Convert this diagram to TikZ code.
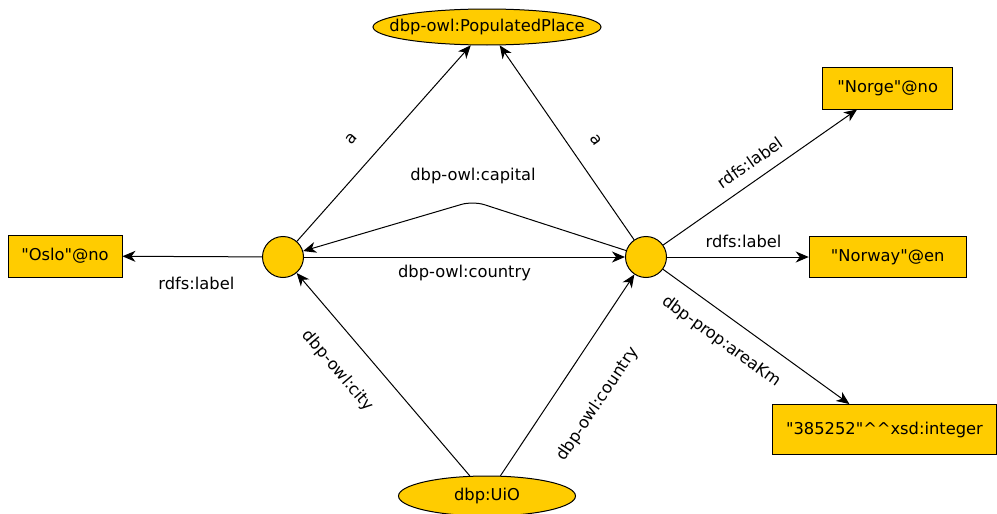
\documentclass[tikz,border=0pt]{standalone}
\usepackage{fontspec}
\setmainfont{DejaVu Sans}
\usetikzlibrary{arrows.meta,shapes.geometric,positioning}
\definecolor{rdfyellow}{RGB}{255,204,0}

\begin{document}
\begin{tikzpicture}[x=1pt, y=1pt,
    every node/.style={font=\fontsize{16.3}{19}\selectfont},
    res/.style={draw, circle, fill=rdfyellow, minimum size=41pt, inner sep=0pt, line width=1pt},
    uri/.style={draw, ellipse, fill=rdfyellow, inner xsep=-17pt, inner ysep=0pt, line width=1pt},
    lit/.style={draw, rectangle, fill=rdfyellow, inner sep=0pt, line width=0.9pt},
    arr/.style={-{Stealth[length=13pt, width=11pt, inset=4pt]}, line width=1pt},
    lbl/.style={inner sep=0pt}]
    \useasboundingbox (0,0) rectangle (997,-514);

    % Resources
    \node[uri, minimum width=228pt, minimum height=36pt] (pp) at (487,-27) {dbp-owl:PopulatedPlace};
    \node[uri, minimum width=177pt, minimum height=40pt] (uio) at (487,-496) {dbp:UiO};
    \node[res] (oslo) at (283,-257) {};
    \node[res] (norway) at (646,-257) {};
    \coordinate (capbend) at (473,-201);

    % Literals
    \node[lit, minimum width=114pt, minimum height=42pt] (osloname) at (65,-256) {\textquotedbl Oslo\textquotedbl @no};
    \node[lit, minimum width=130pt, minimum height=42pt] (norge) at (887.7,-88) {\textquotedbl Norge\textquotedbl @no};
    \node[lit, minimum width=157pt, minimum height=41pt] (norwayname) at (887.7,-257) {\textquotedbl Norway\textquotedbl @en};
    \node[lit, minimum width=224pt, minimum height=50pt] (area) at (884.5,-429.5) {\textquotedbl 385252\textquotedbl\textasciicircum\textasciicircum xsd:integer};

    % Edges
    \draw[arr] (oslo) -- (pp) node[lbl, sloped, pos=0.43, above=22pt] {a};
    \draw[arr] (norway) -- (pp) node[lbl, sloped, pos=0.44, above=20pt] {a};
    \draw[arr, rounded corners=12pt] (norway) -- (capbend) node[lbl, above=17pt] {dbp-owl:capital} -- (oslo);
    \draw[arr] (oslo) -- (norway) node[lbl, midway, below=8pt] {dbp-owl:country};
    \draw[arr] (oslo) -- (osloname) node[lbl, pos=0.47, below=20pt] {rdfs:label};
    \draw[arr] (norway) -- (norge) node[lbl, sloped, pos=0.5, above=11pt] {rdfs:label};
    \draw[arr] (norway) -- (norwayname) node[lbl, pos=0.54, above=9pt] {rdfs:label};
    \draw[arr] (norway) -- (area) node[lbl, sloped, pos=0.39, below=16pt] {dbp-prop:areaKm};
    \draw[arr] (uio) -- (oslo) node[lbl, sloped, pos=0.62, below=24pt] {dbp-owl:city};
    \draw[arr] (uio) -- (norway) node[lbl, sloped, pos=0.47, below=33pt] {dbp-owl:country};
\end{tikzpicture}
\end{document}
